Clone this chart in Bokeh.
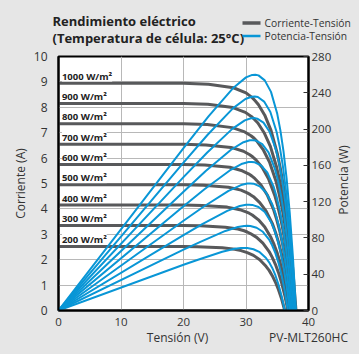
from bokeh.plotting import figure
from bokeh.layouts import column, row
from bokeh.models import Range1d, LinearAxis, Label, FixedTicker
from bokeh.core.properties import value
from bokeh.embed import file_html
from bokeh.resources import INLINE
import math

# ---------------- data ----------------
irradiance = ["1000 W/m²", "900 W/m²", "800 W/m²", "700 W/m²", "600 W/m²",
              "500 W/m²", "400 W/m²", "300 W/m²", "200 W/m²"]
isc = [8.95, 8.15, 7.35, 6.55, 5.75, 4.95, 4.15, 3.35, 2.52]

V_1000 = [0, 20, 24, 28, 30, 31, 31.5, 32, 33, 34, 35, 35.5, 36, 36.5, 37, 37.5, 38]
I_1000 = [8.95, 8.95, 8.91, 8.77, 8.57, 8.38, 8.25, 8.10, 7.69, 7.09, 6.19, 5.59, 4.87, 3.98, 2.90, 1.59, 0]
P_1000 = [0, 179.0, 213.9, 245.6, 257.0, 259.7, 259.9, 259.2, 253.7, 241.0, 216.8, 198.6, 175.3, 145.4, 107.3, 59.7, 0]

V_900 = [0, 20, 23.9, 27.9, 29.9, 30.9, 31.4, 31.9, 32.9, 33.9, 34.9, 35.4, 35.9, 36.4, 36.9, 37.4, 37.9]
I_900 = [8.15, 8.15, 8.12, 7.99, 7.80, 7.63, 7.51, 7.38, 7.00, 6.46, 5.64, 5.09, 4.43, 3.63, 2.64, 1.45, 0]
P_900 = [0, 163.0, 194.0, 222.8, 233.2, 235.7, 235.9, 235.3, 230.3, 218.8, 196.8, 180.3, 159.2, 132.0, 97.5, 54.3, 0]

V_800 = [0, 20, 23.8, 27.8, 29.8, 30.8, 31.3, 31.8, 32.8, 33.8, 34.8, 35.3, 35.8, 36.3, 36.8, 37.3, 37.8]
I_800 = [7.35, 7.35, 7.32, 7.20, 7.03, 6.88, 6.78, 6.65, 6.31, 5.82, 5.09, 4.59, 4.00, 3.27, 2.38, 1.31, 0]
P_800 = [0, 147.0, 174.2, 200.2, 209.6, 211.9, 212.1, 211.5, 207.1, 196.7, 177.0, 162.2, 143.1, 118.7, 87.6, 48.8, 0]

V_700 = [0, 20, 23.6, 27.6, 29.6, 30.6, 31.1, 31.6, 32.6, 33.6, 34.6, 35.1, 35.6, 36.1, 36.6, 37.1, 37.6]
I_700 = [6.55, 6.55, 6.52, 6.42, 6.27, 6.13, 6.04, 5.93, 5.63, 5.19, 4.53, 4.09, 3.56, 2.92, 2.12, 1.17, 0]
P_700 = [0, 131.0, 154.0, 177.2, 185.5, 187.6, 187.8, 187.3, 183.4, 174.3, 156.8, 143.7, 126.8, 105.2, 77.7, 43.3, 0]

V_600 = [0, 20, 23.4, 27.4, 29.4, 30.4, 30.9, 31.4, 32.4, 33.4, 34.4, 34.9, 35.4, 35.9, 36.4, 36.9, 37.4]
I_600 = [5.75, 5.75, 5.73, 5.64, 5.50, 5.38, 5.30, 5.20, 4.94, 4.55, 3.98, 3.59, 3.13, 2.56, 1.86, 1.02, 0]
P_600 = [0, 115.0, 134.0, 154.4, 161.8, 163.6, 163.8, 163.4, 160.0, 152.1, 136.9, 125.4, 110.7, 91.9, 67.8, 37.8, 0]

V_500 = [0, 20, 23.2, 27.2, 29.2, 30.2, 30.7, 31.2, 32.2, 33.2, 34.2, 34.7, 35.2, 35.7, 36.2, 36.7, 37.2]
I_500 = [4.95, 4.95, 4.93, 4.85, 4.74, 4.63, 4.56, 4.48, 4.25, 3.92, 3.43, 3.09, 2.69, 2.20, 1.60, 0.88, 0]
P_500 = [0, 99.0, 114.4, 131.9, 138.3, 139.9, 140.1, 139.8, 136.9, 130.1, 117.1, 107.4, 94.8, 78.6, 58.1, 32.3, 0]

V_400 = [0, 20, 23, 27, 29, 30, 30.5, 31, 32, 33, 34, 34.5, 35, 35.5, 36, 36.5, 37]
I_400 = [4.15, 4.15, 4.13, 4.07, 3.97, 3.88, 3.83, 3.76, 3.57, 3.29, 2.87, 2.59, 2.26, 1.85, 1.35, 0.74, 0]
P_400 = [0, 83.0, 95.1, 109.8, 115.2, 116.5, 116.7, 116.4, 114.1, 108.5, 97.6, 89.5, 79.0, 65.6, 48.4, 27.0, 0]

V_300 = [0, 20, 22.7, 26.7, 28.7, 29.7, 30.2, 30.7, 31.7, 32.7, 33.7, 34.2, 34.7, 35.2, 35.7, 36.2, 36.7]
I_300 = [3.35, 3.35, 3.34, 3.28, 3.21, 3.14, 3.09, 3.03, 2.88, 2.65, 2.32, 2.09, 1.82, 1.49, 1.09, 0.60, 0]
P_300 = [0, 67.0, 75.7, 87.7, 92.0, 93.1, 93.3, 93.1, 91.2, 86.8, 78.1, 71.6, 63.2, 52.5, 38.7, 21.6, 0]

V_200 = [0, 20, 22.2, 26.2, 28.2, 29.2, 29.7, 30.2, 31.2, 32.2, 33.2, 33.7, 34.2, 34.7, 35.2, 35.7, 36.2]
I_200 = [2.52, 2.52, 2.51, 2.47, 2.41, 2.36, 2.32, 2.28, 2.17, 2.00, 1.74, 1.58, 1.37, 1.12, 0.82, 0.45, 0]
P_200 = [0, 50.4, 55.7, 64.7, 68.0, 68.9, 69.0, 68.9, 67.5, 64.3, 57.9, 53.1, 46.9, 38.9, 28.7, 16.0, 0]

x_ticks = [0, 10, 20, 30, 40]
current_ticks = [0, 1, 2, 3, 4, 5, 6, 7, 8, 9, 10]
power_ticks = [0, 40, 80, 120, 160, 200, 240, 280]

title_lines = ["Rendimiento eléctrico", "(Temperatura de célula: 25°C)"]
legend_labels = ["Corriente-Tensión", "Potencia-Tensión"]
x_title = "Tensión (V)"
y_title = "Corriente (A)"
y2_title = "Potencia (W)"
model_name = "PV-MLT260HC"

voltages = [V_1000, V_900, V_800, V_700, V_600, V_500, V_400, V_300, V_200]
currents = [I_1000, I_900, I_800, I_700, I_600, I_500, I_400, I_300, I_200]
powers = [P_1000, P_900, P_800, P_700, P_600, P_500, P_400, P_300, P_200]

# ---------------- styling ----------------
GRAY = "#58595b"
BLUE = "#0996d6"
BG = "#e6e6e6"
TXT = "#333333"
FONT = "Open Sans"

TOTAL_W = 343
HEAD_H = 39
MAIN_H = 281
FOOT_H = 18
STRIP_W = 17
MAIN_W = TOTAL_W - STRIP_W


def blank(w, h):
    f = figure(width=w, height=h, x_range=Range1d(0, w), y_range=Range1d(0, h),
               output_backend="svg", toolbar_location=None, min_border=0,
               x_axis_location=None, y_axis_location=None,
               outline_line_color=None, background_fill_color=BG,
               border_fill_color=BG)
    f.grid.visible = False
    return f


# ---------------- main chart ----------------
p = figure(width=MAIN_W, height=MAIN_H,
           x_range=Range1d(0, 40), y_range=Range1d(0, 10),
           output_backend="svg", toolbar_location=None,
           min_border_left=43, min_border_right=24,
           min_border_top=9, min_border_bottom=17,
           background_fill_color="white", border_fill_color=BG,
           outline_line_color="black", outline_line_width=2)
p.extra_y_ranges = {"pw": Range1d(0, 280)}

xa = p.xaxis[0]
xa.ticker = FixedTicker(ticks=x_ticks)
ya = p.yaxis[0]
ya.ticker = FixedTicker(ticks=current_ticks)
ra = LinearAxis(y_range_name="pw", ticker=FixedTicker(ticks=power_ticks))
p.add_layout(ra, "right")

for ax in (xa, ya, ra):
    ax.axis_line_color = "black"
    ax.axis_line_width = 2
    ax.minor_tick_line_color = None
    ax.major_label_text_font = FONT
    ax.major_label_text_font_size = "11.5px"
    ax.major_label_text_color = TXT
    ax.major_label_standoff = 5
ya.major_label_text_font_size = "12px"
xa.major_tick_line_color = None
ya.major_tick_line_color = None
xa.major_label_standoff = 1
ra.major_tick_in = 5
ra.major_tick_out = 0
ra.major_tick_line_color = "#333333"
ra.major_label_standoff = 3

ya.axis_label = y_title
ya.axis_label_text_font = FONT
ya.axis_label_text_font_size = "12px"
ya.axis_label_text_font_style = "normal"
ya.axis_label_text_color = TXT
ya.axis_label_standoff = 2

p.xgrid.ticker = FixedTicker(ticks=x_ticks)
p.ygrid.ticker = FixedTicker(ticks=current_ticks)
for g in (p.xgrid[0], p.ygrid[0]):
    g.grid_line_color = "#b8b8b8"
    g.grid_line_width = 1

for lab, i0 in zip(irradiance, isc):
    p.add_layout(Label(x=0.55, y=i0 + 0.27, text=lab, text_font=FONT,
                       text_font_size="9.5px", text_color="#222222",
                       text_font_style="bold", text_baseline="middle",
                       background_fill_color="white", level="underlay"))

for v, i in zip(voltages, currents):
    p.line(v, i, line_color=GRAY, line_width=3, line_join="round")
for v, w in zip(voltages, powers):
    p.line(v, w, line_color=BLUE, line_width=2, line_join="round", y_range_name="pw")

# ---------------- header: title + legend ----------------
head = blank(TOTAL_W, HEAD_H)
head.text(x=[44, 44], y=[26.5, 9.5], text=title_lines, text_font=value(FONT),
          text_font_size="13px", text_font_style="bold", text_color="#222222",
          text_baseline="middle", text_align="left")
head.segment(x0=[234], y0=[24.5], x1=[252], y1=[24.5], line_color=GRAY, line_width=3.5)
head.segment(x0=[234], y0=[11.5], x1=[252], y1=[11.5], line_color=BLUE, line_width=2.5)
head.text(x=[256, 256], y=[24.5, 11.5], text=legend_labels, text_font=value(FONT),
          text_font_size="10.3px", text_color=TXT,
          text_baseline="middle", text_align="left")

# ---------------- right strip: power axis title ----------------
strip = blank(STRIP_W, MAIN_H)
strip.text(x=[8.5], y=[144.5], text=[y2_title], angle=math.pi / 2,
           text_font=value(FONT), text_font_size="12px", text_color=TXT,
           text_align="center", text_baseline="middle")

# ---------------- footer: x title + model ----------------
foot = blank(TOTAL_W, FOOT_H)
foot.text(x=[169, 300], y=[9, 9], text=[x_title, model_name],
          text_font=value(FONT), text_font_size="12px", text_color=TXT,
          text_align="center", text_baseline="middle")

layout = column(head, row(p, strip, spacing=0), foot, spacing=0)
html = file_html(layout, INLINE)
page_css = ("<style>html, body { margin: 0 !important; background: #e6e6e6; "
            "overflow: hidden; } body { padding: 8px !important; }</style></head>")
html = html.replace("</head>", page_css, 1)
open("out.html", "w").write(html)
